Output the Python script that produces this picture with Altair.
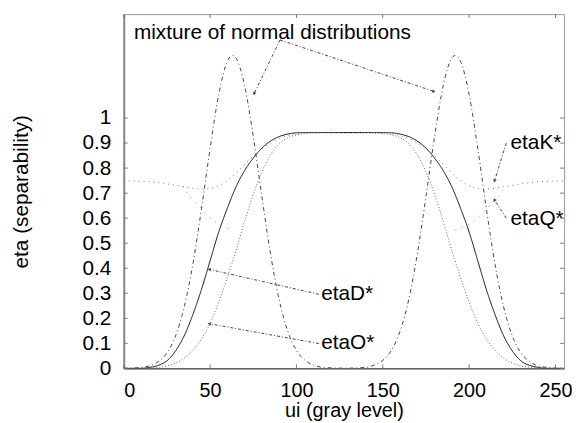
import altair as alt
import pandas as pd
import numpy as np

# ---------------- data ----------------
X_GRID = list(range(0, 256, 5))  # gray levels 0..255 step 5

ETA_O = [0, 0, 0, 0.001, 0.004, 0.010, 0.021, 0.041, 0.072, 0.118, 0.180, 0.265, 0.364,
         0.470, 0.588, 0.695, 0.785, 0.853, 0.897, 0.921, 0.933, 0.938, 0.940, 0.941, 0.941, 0.941,
         0.941, 0.941, 0.941, 0.940, 0.938, 0.933, 0.921, 0.897, 0.853, 0.785, 0.695, 0.588, 0.470,
         0.364, 0.265, 0.180, 0.118, 0.072, 0.041, 0.021, 0.010, 0.004, 0.001, 0, 0, 0]

ETA_D = [0, 0, 0, 0.004, 0.012, 0.030, 0.070, 0.130, 0.215, 0.315, 0.430, 0.545, 0.640,
         0.725, 0.790, 0.840, 0.880, 0.908, 0.926, 0.936, 0.941, 0.942, 0.942, 0.942, 0.942, 0.942,
         0.942, 0.942, 0.942, 0.942, 0.942, 0.941, 0.936, 0.926, 0.908, 0.880, 0.840, 0.790, 0.725,
         0.640, 0.545, 0.430, 0.315, 0.215, 0.130, 0.070, 0.030, 0.012, 0.004, 0, 0, 0]

ETA_K = [0.748, 0.748, 0.747, 0.745, 0.742, 0.737, 0.731, 0.725, 0.720, 0.716, 0.718, 0.730, 0.750,
         0.780, 0.815, 0.848, 0.876, 0.900, 0.918, 0.930, 0.938, 0.941, 0.942, 0.942, 0.942, 0.942,
         0.942, 0.942, 0.942, 0.942, 0.941, 0.938, 0.930, 0.918, 0.900, 0.876, 0.848, 0.815, 0.780,
         0.750, 0.730, 0.718, 0.716, 0.720, 0.725, 0.731, 0.737, 0.742, 0.745, 0.747, 0.748, 0.748]

MIX_X = [0, 5, 10, 15, 20, 25, 30, 35, 40, 45, 50, 55, 60, 63, 65, 70, 75, 80, 85, 90, 95, 100,
         105, 110, 115, 120, 125, 130, 135, 140, 145, 150, 155, 160, 165, 170, 175, 180, 185, 190,
         192, 195, 200, 205, 210, 215, 220, 225, 230, 235, 240, 245, 250, 255]
MIX_Y = [0.0003, 0.001, 0.004, 0.010, 0.027, 0.062, 0.130, 0.245, 0.416, 0.637, 0.879, 1.094,
         1.227, 1.250, 1.240, 1.129, 0.926, 0.685, 0.457, 0.274, 0.148, 0.072, 0.032, 0.013, 0.004,
         0.002, 0.001, 0.001, 0.002, 0.004, 0.013, 0.032, 0.072, 0.148, 0.274, 0.457, 0.685, 0.926,
         1.129, 1.240, 1.250, 1.227, 1.094, 0.879, 0.637, 0.416, 0.245, 0.130, 0.062, 0.027, 0.010,
         0.004, 0.001, 0.0003]

ETAQ_X_LEFT = [34, 39, 44, 48, 52, 58, 63]
ETAQ_Y_LEFT = [0.728, 0.680, 0.645, 0.615, 0.590, 0.566, 0.552]
ETAQ_X_RIGHT = [192, 197, 203, 207, 211, 216, 221]
ETAQ_Y_RIGHT = [0.552, 0.566, 0.590, 0.615, 0.645, 0.680, 0.728]

X_TICKS = [0, 50, 100, 150, 200, 250]
Y_TICKS = [0, 0.1, 0.2, 0.3, 0.4, 0.5, 0.6, 0.7, 0.8, 0.9, 1]

LABELS = ["mixture of normal distributions", "etaK*", "etaQ*", "etaD*", "etaO*"]
LABEL_X = [5.9, 224.0, 224.0, 114.3, 114.3]
LABEL_Y = [1.34, 0.899, 0.595, 0.296, 0.100]

ARROW_X0 = [90.5, 90.5, 221.5, 221.5, 113.0, 113.0]
ARROW_Y0 = [1.312, 1.312, 0.900, 0.600, 0.296, 0.099]
ARROW_X1 = [75.6, 179.3, 214.8, 214.8, 49.8, 49.8]
ARROW_Y1 = [1.099, 1.107, 0.751, 0.672, 0.395, 0.178]

# ---------------- layout ----------------
W, H = 445, 358
XMAX, YMAX = 255, 1.415
FONT = "Liberation Sans"

xs = alt.Scale(domain=[0, XMAX], nice=False, zero=False)
ys = alt.Scale(domain=[0, YMAX], nice=False, zero=False)

xaxis = alt.Axis(
    title="ui (gray level)", values=X_TICKS, ticks=False, grid=False,
    labelFont=FONT, labelFontSize=20, labelPadding=28, labelBaseline="alphabetic",
    labelColor="#000",
    titleFont=FONT, titleFontSize=20, titleFontWeight="normal", titleColor="#000",
    titleBaseline="alphabetic", titleY=49, titleX=W / 2,
    domainColor="#333", domainWidth=1)
yaxis = alt.Axis(
    title="eta (separability)", values=Y_TICKS, format="~g", ticks=False, grid=False,
    labelFont=FONT, labelFontSize=21, labelPadding=13, labelColor="#000",
    titleFont=FONT, titleFontSize=21, titleFontWeight="normal", titleColor="#000",
    titleBaseline="middle", titleX=-103, titleY=H / 2, titleAngle=270,
    domainColor="#888", domainWidth=2)

X = alt.X("x:Q", scale=xs, axis=xaxis)
Y = alt.Y("y:Q", scale=ys, axis=yaxis)

df_o = pd.DataFrame({"x": X_GRID, "y": ETA_O})
df_d = pd.DataFrame({"x": X_GRID, "y": ETA_D})
df_k = pd.DataFrame({"x": X_GRID, "y": ETA_K})
df_m = pd.DataFrame({"x": MIX_X, "y": MIX_Y})
df_q = pd.concat([
    pd.DataFrame({"x": ETAQ_X_LEFT, "y": ETAQ_Y_LEFT, "g": "L"}),
    pd.DataFrame({"x": ETAQ_X_RIGHT, "y": ETAQ_Y_RIGHT, "g": "R"}),
])

def curve(df, color, dash, width=1.0, detail=None):
    enc = dict(x=X, y=Y)
    if detail:
        enc["detail"] = detail
    return alt.Chart(df).mark_line(color=color, strokeWidth=width, strokeDash=dash,
                                   interpolate="monotone", clip=True).encode(**enc)

mix = curve(df_m, "#444", [4, 3, 1, 3])
eta_o = curve(df_o, "#666", [1, 2])
eta_d = curve(df_d, "#111", [1, 0], 1.0)
eta_k = curve(df_k, "#777", [1, 4])
eta_q = curve(df_q, "#888", [1, 6], detail="g:N")

# inward ticks on all four sides
ydf = pd.DataFrame({"y": Y_TICKS})
xdf = pd.DataFrame({"x": X_TICKS})
tick_l = alt.Chart(ydf).mark_rule(color="#777").encode(y=Y, x=alt.value(0), x2=alt.value(4))
tick_r = alt.Chart(ydf).mark_rule(color="#777").encode(y=Y, x=alt.value(W - 4), x2=alt.value(W))
tick_t = alt.Chart(xdf).mark_rule(color="#777").encode(x=X, y=alt.value(0), y2=alt.value(4))
tick_b = alt.Chart(xdf).mark_rule(color="#777").encode(x=X, y=alt.value(H - 4), y2=alt.value(H))

# annotations
lab_df = pd.DataFrame({"t": LABELS, "x": LABEL_X, "y": LABEL_Y})
labels = alt.Chart(lab_df).mark_text(align="left", baseline="middle", font=FONT,
                                     fontSize=21, color="#000").encode(x=X, y=Y, text="t:N")

arr_df = pd.DataFrame({"x": ARROW_X0, "y": ARROW_Y0, "x1": ARROW_X1, "y1": ARROW_Y1})
sx, sy = W / XMAX, H / YMAX
dx = (np.array(ARROW_X1) - np.array(ARROW_X0)) * sx
dy = -(np.array(ARROW_Y1) - np.array(ARROW_Y0)) * sy
arr_df["ang"] = (np.degrees(np.arctan2(dx, -dy)) + 360) % 360
arrows = alt.Chart(arr_df).mark_rule(color="#444", strokeWidth=1, strokeDash=[3, 2, 1, 2]).encode(
    x=X, y=Y, x2="x1:Q", y2="y1:Q")
head_df = pd.DataFrame({"x": ARROW_X1, "y": ARROW_Y1, "ang": arr_df["ang"]})
heads = alt.Chart(head_df).mark_point(shape="triangle", filled=True, color="#444", size=14,
                                      opacity=1).encode(
    x=X, y=Y, angle=alt.Angle("ang:Q", scale=None))

chart = alt.layer(
    mix, eta_o, eta_d, eta_k, eta_q,
    tick_l, tick_r, tick_t, tick_b,
    arrows, heads, labels,
).properties(
    width=W, height=H,
    autosize=alt.AutoSizeParams(type="none"),
    padding={"left": 117, "top": 4, "right": 8, "bottom": 53},
    background="white",
).configure_view(stroke="#999", strokeWidth=1)

chart.save("out.html", embed_options={"renderer": "svg", "actions": False})
